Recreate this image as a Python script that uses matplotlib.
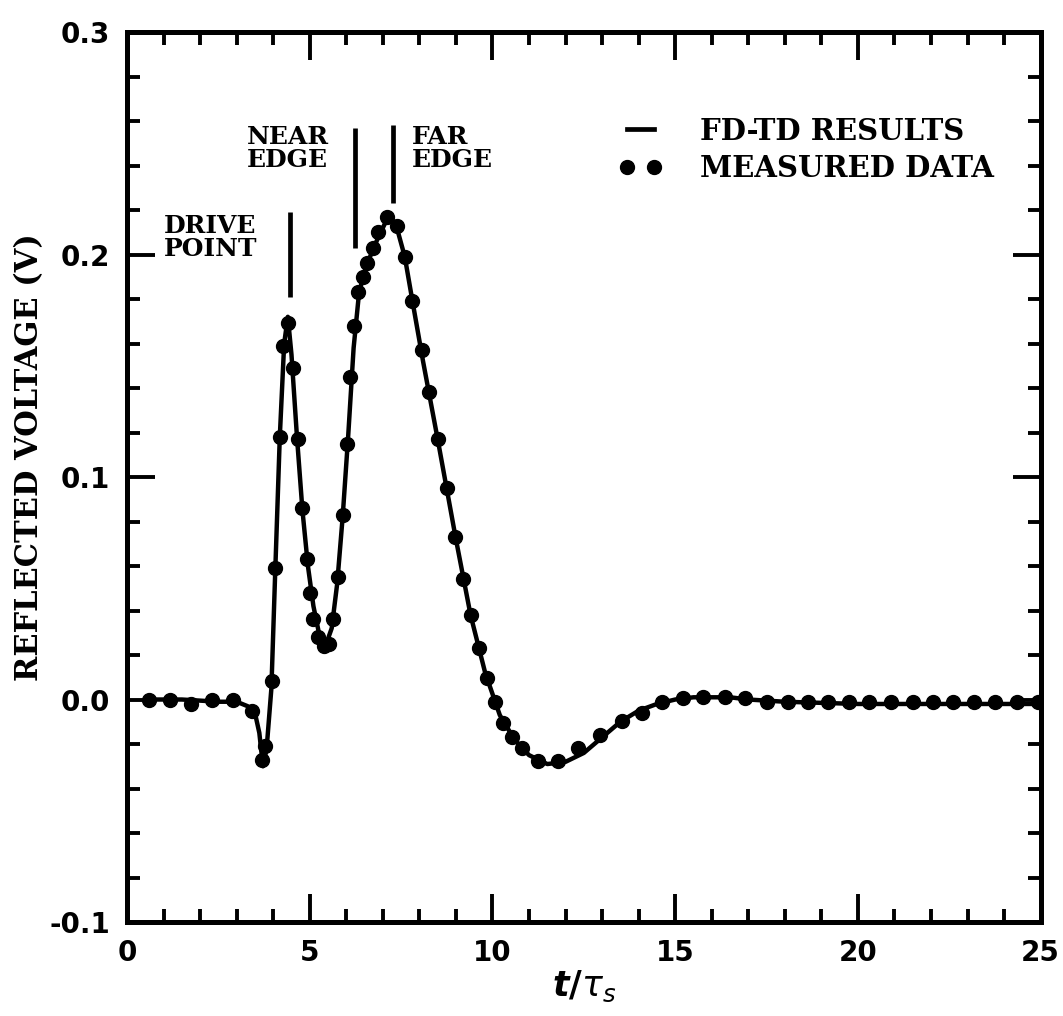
import matplotlib
matplotlib.use("Agg")
import matplotlib.pyplot as plt
from matplotlib.lines import Line2D
from matplotlib.ticker import MultipleLocator

# FD-TD curve
fdtd_t = [0.5, 1.5, 2.5, 3.0, 3.3, 3.5, 3.62, 3.72, 3.82, 3.95, 4.05, 4.18, 4.3, 4.4,
          4.5, 4.65, 4.8, 4.95, 5.1, 5.25, 5.45, 5.6, 5.75, 5.9, 6.05, 6.2, 6.35, 6.55,
          6.8, 7.0, 7.15, 7.35, 7.6, 7.8, 8.1, 8.5, 9.0, 9.4, 9.8, 10.2, 10.6, 11.0,
          11.5, 12.0, 12.5, 13.0, 13.5, 14.0, 14.5, 15.0, 15.5, 16.0, 16.5, 17.0,
          18.0, 20.0, 22.0, 25.0]
fdtd_v = [0.0, 0.0, -0.001, -0.001, -0.003, -0.006, -0.015, -0.030, -0.022, 0.005,
          0.055, 0.118, 0.160, 0.172, 0.155, 0.118, 0.085, 0.060, 0.042, 0.030, 0.025,
          0.032, 0.052, 0.082, 0.118, 0.158, 0.183, 0.195, 0.205, 0.212, 0.217, 0.214,
          0.199, 0.180, 0.152, 0.117, 0.072, 0.038, 0.012, -0.007, -0.018, -0.025,
          -0.029, -0.028, -0.024, -0.017, -0.010, -0.005, -0.002, 0.0, 0.001, 0.001,
          0.001, 0.0, -0.001, -0.002, -0.002, -0.002]

# measured data points
meas_t = [0.6, 1.17, 1.74, 2.32, 2.9, 3.42, 3.68, 3.78, 3.97, 4.05, 4.18, 4.27, 4.4,
          4.54, 4.68, 4.79, 4.92, 5.0, 5.09, 5.22, 5.4, 5.52, 5.64, 5.77, 5.91, 6.02,
          6.1, 6.21, 6.32, 6.45, 6.56, 6.73, 6.87, 7.11, 7.38, 7.6, 7.8, 8.07, 8.26,
          8.5, 8.75, 8.97, 9.2, 9.4, 9.63, 9.85, 10.07, 10.29, 10.53, 10.8, 11.24,
          11.79, 12.34, 12.94, 13.54, 14.09, 14.63, 15.21, 15.76, 16.36, 16.9, 17.5,
          18.08, 18.63, 19.17, 19.75, 20.3, 20.9, 21.5, 22.05, 22.6, 23.17, 23.74,
          24.34, 24.92]
meas_v = [0.0, 0.0, -0.002, 0.0, 0.0, -0.005, -0.027, -0.021, 0.0085, 0.059, 0.118,
          0.159, 0.169, 0.149, 0.117, 0.086, 0.063, 0.048, 0.036, 0.028, 0.024, 0.025,
          0.036, 0.055, 0.083, 0.115, 0.145, 0.168, 0.183, 0.190, 0.196, 0.203, 0.210,
          0.217, 0.213, 0.199, 0.179, 0.157, 0.138, 0.117, 0.095, 0.073, 0.054, 0.038,
          0.023, 0.0095, -0.0013, -0.0104, -0.017, -0.022, -0.0275, -0.0275, -0.022,
          -0.016, -0.0095, -0.006, -0.0013, 0.0005, 0.001, 0.001, 0.0005, -0.001,
          -0.0013, -0.0013, -0.0013, -0.0013, -0.0013, -0.0013, -0.0013, -0.0013,
          -0.0013, -0.0013, -0.0013, -0.0013, -0.0013]

# annotation markers (drive point, near edge, far edge)
mark_t = [4.46, 6.24, 7.28]
mark_lo = [0.181, 0.203, 0.223]
mark_hi = [0.219, 0.257, 0.258]

serif = "DejaVu Serif"

fig = plt.figure(figsize=(10.63, 10.16), dpi=100)
ax = fig.add_axes([0.1195, 0.0925, 0.8595, 0.876])

ax.plot(fdtd_t, fdtd_v, color="black", linewidth=3.2, solid_capstyle="round",
        solid_joinstyle="round")
ax.plot(meas_t, meas_v, linestyle="none", marker="o", markersize=10,
        color="black")
ax.vlines(mark_t, mark_lo, mark_hi, color="black", linewidth=3.4)

ann = dict(family=serif, weight="bold", fontsize=18, ha="left", va="top",
           linespacing=0.9)
ax.text(1.0, 0.218, "DRIVE\nPOINT", **ann)
ax.text(3.28, 0.258, "NEAR\nEDGE", **ann)
ax.text(7.8, 0.258, "FAR\nEDGE", **ann)

handles = [Line2D([], [], color="black", linewidth=3.4),
           Line2D([], [], color="black", linestyle="none", marker="o", markersize=10)]
leg = ax.legend(handles, ["FD-TD RESULTS", "MEASURED DATA"], numpoints=2,
                loc="upper right", bbox_to_anchor=(0.962, 0.918), frameon=False,
                borderaxespad=0, handlelength=1.5, handletextpad=1.3,
                labelspacing=0.3, prop={"family": serif, "weight": "bold", "size": 21})

ax.set_xlim(0, 25)
ax.set_ylim(-0.1, 0.3)
ax.xaxis.set_major_locator(MultipleLocator(5))
ax.xaxis.set_minor_locator(MultipleLocator(1))
ax.yaxis.set_major_locator(MultipleLocator(0.1))
ax.yaxis.set_minor_locator(MultipleLocator(0.02))
ax.xaxis.set_major_formatter(plt.FuncFormatter(lambda v, p: f"{v:g}"))
ax.yaxis.set_major_formatter(plt.FuncFormatter(lambda v, p: f"{v:.1f}"))

ax.tick_params(which="both", direction="in", top=True, right=True, width=2.8)
ax.tick_params(which="major", length=20, labelsize=20, pad=12)
ax.tick_params(which="minor", length=9.5)
for lab in ax.get_xticklabels() + ax.get_yticklabels():
    lab.set_fontweight("heavy")
for sp in ax.spines.values():
    sp.set_linewidth(3.6)

ax.set_ylabel("REFLECTED VOLTAGE (V)", family=serif, weight="bold", fontsize=22)
ax.yaxis.set_label_coords(-0.09, 0.522)
ax.text(0.5, -0.072, r"$\boldsymbol{t/\tau_s}$", transform=ax.transAxes,
        ha="center", va="center", fontsize=25)

fig.savefig("out.png", dpi=100)
